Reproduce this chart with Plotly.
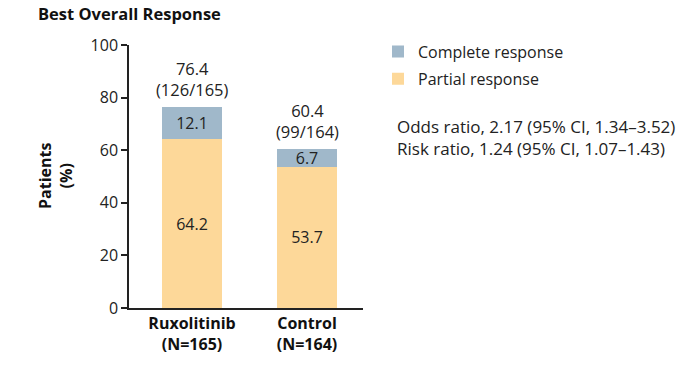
import plotly.graph_objects as go

categories = ["<b>Ruxolitinib</b><br><b>(N=165)</b>", "<b>Control</b><br><b>(N=164)</b>"]
partial = [64.2, 53.7]
complete = [12.1, 6.7]
overall = [76.4, 60.4]
overall_counts = ["(126/165)", "(99/164)"]

FONT = "Open Sans"
blue = "#a0b8ca"
yellow = "#fdd899"
text_col = "#222222"
FS = 16

fig = go.Figure()
fig.add_trace(go.Bar(
    x=categories, y=partial, name="Partial response", marker_color=yellow,
    marker_line_width=0, width=0.52, legendgroup="p", legendrank=2,
    text=[f"{v:.1f}" for v in partial], textposition="inside", constraintext="none",
    insidetextanchor="middle", textfont=dict(size=FS, color=text_col, family=FONT),
    hoverinfo="skip"))
fig.add_trace(go.Bar(
    x=categories, y=complete, name="Complete response", marker_color=blue,
    marker_line_width=0, width=0.52, legendgroup="c", legendrank=1,
    text=[f"{v:.1f}" for v in complete], textposition="inside", constraintext="none",
    insidetextanchor="middle", textfont=dict(size=FS, color=text_col, family=FONT),
    hoverinfo="skip"))

for cat, tot, cnt in zip(categories, overall, overall_counts):
    fig.add_annotation(x=cat, y=tot, text=f"{tot:.1f}<br>{cnt}", showarrow=False,
                       yanchor="bottom", yshift=4, xref="x", yref="y",
                       font=dict(size=16.5, color=text_col, family=FONT))

fig.add_annotation(text="<b>Best Overall Response</b>", xref="paper", yref="paper",
                   x=(36 - 129) / 234, y=(308 - 13) / 263, xanchor="left", yanchor="middle",
                   showarrow=False, font=dict(size=16.5, color="#111111", family=FONT))
fig.add_annotation(text="<b>Patients</b><br><b>(%)</b>", xref="paper", yref="paper",
                   x=(55 - 129) / 234, y=(308 - 176) / 263, xanchor="center", yanchor="middle",
                   textangle=-90, showarrow=False,
                   font=dict(size=16, color="#111111", family=FONT))
fig.add_annotation(text="Odds ratio, 2.17 (95% CI, 1.34\u20133.52)<br>Risk ratio, 1.24 (95% CI, 1.07\u20131.43)",
                   xref="paper", yref="paper", x=(395 - 129) / 234, y=(308 - 137) / 263,
                   xanchor="left", yanchor="middle", align="left", showarrow=False,
                   font=dict(size=17, color=text_col, family=FONT))

fig.update_layout(
    width=696, height=381, barmode="stack",
    margin=dict(l=129, r=333, t=45, b=73, autoexpand=False),
    plot_bgcolor="white", paper_bgcolor="white",
    font=dict(family=FONT, size=FS, color=text_col),
    showlegend=True,
    legend=dict(x=(378 - 129) / 234, y=(308 - 34.5) / 263, xanchor="left", yanchor="top",
                traceorder="grouped", tracegroupgap=3.5,
                font=dict(size=16, color=text_col, family=FONT),
                bgcolor="rgba(0,0,0,0)"),
    xaxis=dict(range=[-0.548, 1.487], showline=True, linecolor="#222222", linewidth=1.5,
               ticks="", tickfont=dict(size=16, color="#111111", family=FONT),
               showgrid=False, zeroline=False, fixedrange=True),
    yaxis=dict(range=[0, 100], tickvals=[0, 20, 40, 60, 80, 100], showline=True,
               linecolor="#222222", linewidth=1.5, ticks="outside", ticklen=6,
               tickcolor="#222222", tickwidth=1.5, showgrid=False, zeroline=False,
               tickfont=dict(size=FS, color=text_col, family=FONT), fixedrange=True),
)
fig.write_html("out.html", config={"displayModeBar": False},
               post_script="document.body.style.margin='0';")
